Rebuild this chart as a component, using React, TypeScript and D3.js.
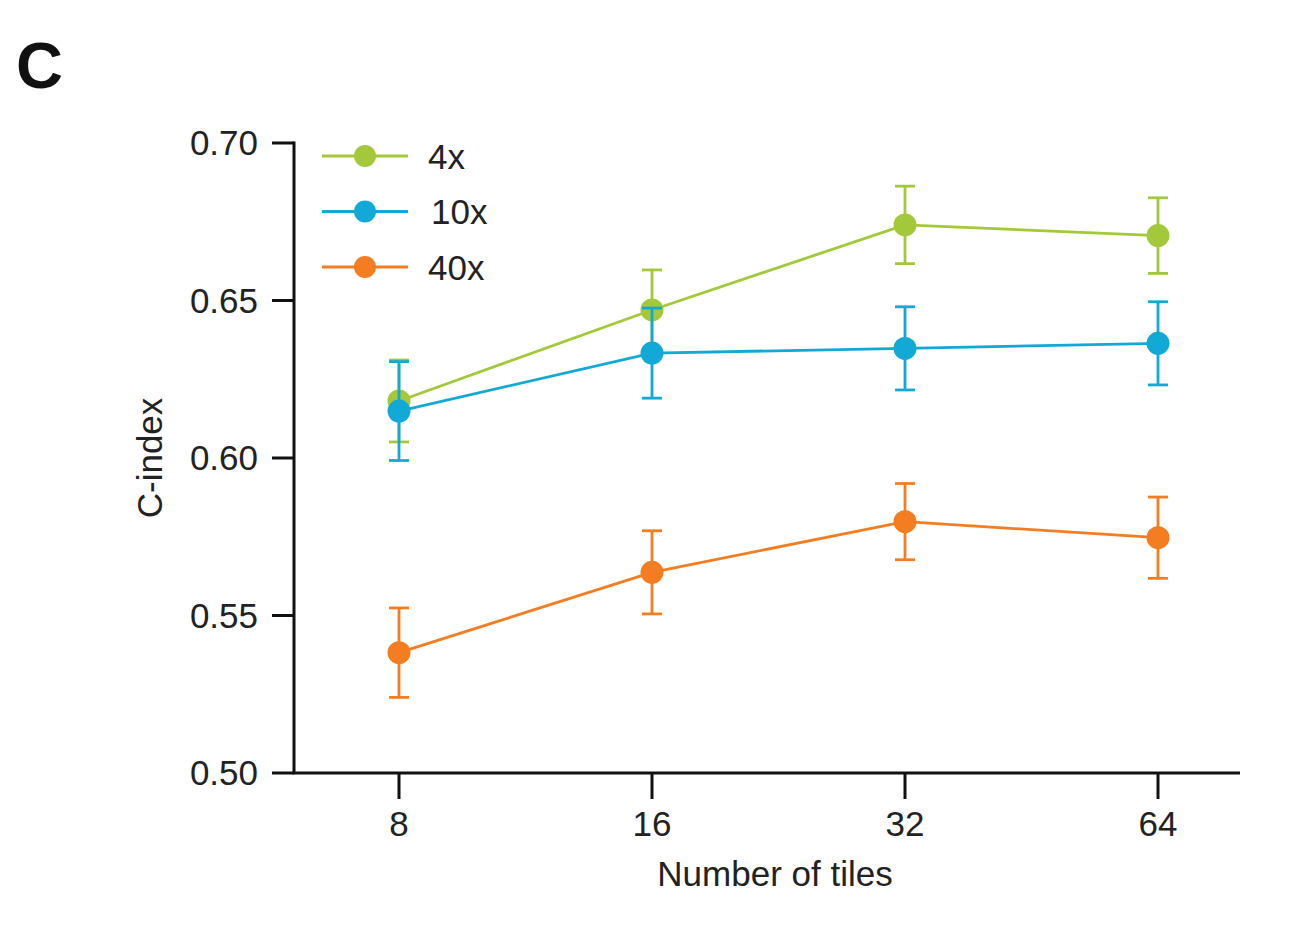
import React from 'react';
import * as d3 from 'd3';

// x categories
const tiles = ['8', '16', '32', '64'];
const yTicks = [0.5, 0.55, 0.6, 0.65, 0.7];

// series means and error (SD)
const seriesNames = ['4x', '10x', '40x'];
const seriesColors = ['#a3c93a', '#12a9d6', '#f37d20'];
const mean4x = [0.6181, 0.647, 0.674, 0.6706];
const err4x = [0.013, 0.0127, 0.0123, 0.012];
const mean10x = [0.6149, 0.6333, 0.6348, 0.6364];
const err10x = [0.0157, 0.0143, 0.0132, 0.0132];
const mean40x = [0.5382, 0.5637, 0.5798, 0.5747];
const err40x = [0.0142, 0.0132, 0.0121, 0.0129];

const means = [mean4x, mean10x, mean40x];
const errs = [err4x, err10x, err40x];

const FONT = '"Liberation Sans", Arial, Helvetica, sans-serif';

const App: React.FC = () => {
  const width = 1312;
  const height = 944;
  const left = 294;
  const right = 1240;
  const top = 143;
  const bottom = 773;

  // first and last category sit inside the axis, not at its ends
  const x = d3.scalePoint<string>()
    .domain(tiles)
    .range([left + 105, right - 82]);

  const y = d3.scaleLinear().domain([0.5, 0.7]).range([bottom, top]);

  const line = d3.line<number>()
    .x((_, i) => x(tiles[i]) as number)
    .y(d => y(d));

  const capHalf = 10;
  const r = 11.5;
  const sw = 2.8;

  return (
    <svg
      width={width}
      height={height}
      style={{ position: 'absolute', left: 0, top: 0, background: '#fff' }}
      fontFamily={FONT}
    >
      {/* panel letter */}
      <text x={16} y={88} fontSize={65} fontWeight="bold" fill="#111">C</text>

      {/* y axis */}
      <line x1={left} x2={left} y1={top - 1.5} y2={bottom} stroke="#111" strokeWidth={3} />
      {yTicks.map(t => (
        <g key={t}>
          <line x1={left - 22} x2={left} y1={y(t)} y2={y(t)} stroke="#111" strokeWidth={3} />
          <text
            x={left - 36}
            y={y(t)}
            dy="0.35em"
            textAnchor="end"
            fontSize={35}
            fill="#222"
          >
            {t.toFixed(2)}
          </text>
        </g>
      ))}
      <text
        transform={`translate(162, ${(top + bottom) / 2}) rotate(-90)`}
        textAnchor="middle"
        fontSize={35}
        fill="#222"
      >
        C-index
      </text>

      {/* x axis */}
      <line x1={left - 1.5} x2={right} y1={bottom} y2={bottom} stroke="#111" strokeWidth={3} />
      {tiles.map(t => (
        <g key={t}>
          <line x1={x(t)} x2={x(t)} y1={bottom} y2={bottom + 26} stroke="#111" strokeWidth={3} />
          <text x={x(t)} y={bottom + 63} textAnchor="middle" fontSize={35} fill="#222">{t}</text>
        </g>
      ))}
      <text x={775} y={886} textAnchor="middle" fontSize={35} fill="#222">Number of tiles</text>

      {/* series */}
      {means.map((m, si) => (
        <g key={seriesNames[si]}>
          <path d={line(m) || ''} fill="none" stroke={seriesColors[si]} strokeWidth={sw} />
          {m.map((v, i) => {
            const cx = x(tiles[i]) as number;
            const e = errs[si][i];
            return (
              <g key={i} stroke={seriesColors[si]} strokeWidth={sw}>
                <line x1={cx} x2={cx} y1={y(v + e)} y2={y(v - e)} />
                <line x1={cx - capHalf} x2={cx + capHalf} y1={y(v + e)} y2={y(v + e)} />
                <line x1={cx - capHalf} x2={cx + capHalf} y1={y(v - e)} y2={y(v - e)} />
                <circle cx={cx} cy={y(v)} r={r} fill={seriesColors[si]} stroke="none" />
              </g>
            );
          })}
        </g>
      ))}

      {/* legend */}
      {seriesNames.map((name, i) => {
        const ly = 156 + i * 55.5;
        return (
          <g key={name}>
            <line x1={322} x2={408} y1={ly} y2={ly} stroke={seriesColors[i]} strokeWidth={sw} />
            <circle cx={365} cy={ly} r={r - 0.5} fill={seriesColors[i]} />
            <text x={i === 1 ? 431 : 428} y={ly} dy="0.36em" fontSize={35} fill="#222">{name}</text>
          </g>
        );
      })}
    </svg>
  );
};

export default App;
